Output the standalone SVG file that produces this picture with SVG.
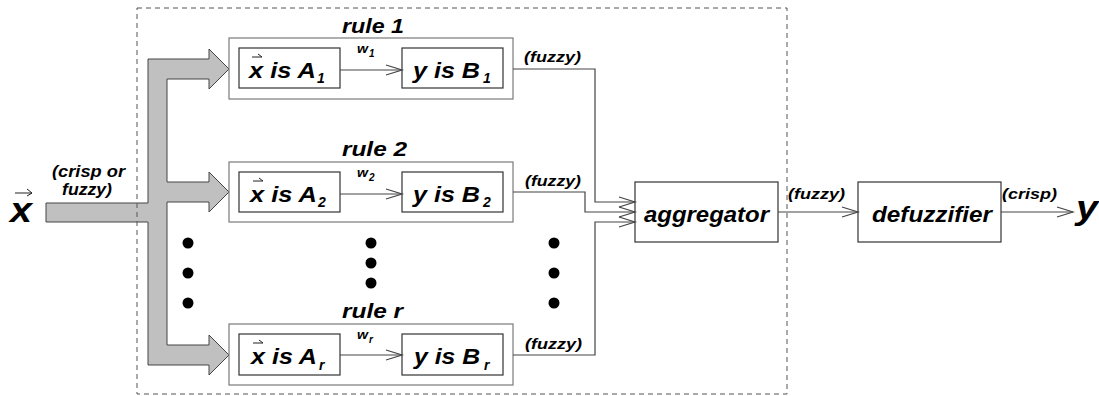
<svg xmlns="http://www.w3.org/2000/svg" width="1099" height="396" viewBox="0 0 1099 396">
  <style>
    text { font-family: "Liberation Sans", Arial, sans-serif; font-weight: bold; font-style: italic; fill: #000; }
    .rulebox { fill: #fff; stroke: #7a7a7a; stroke-width: 1.2; }
    .inbox { fill: #fff; stroke: #333; stroke-width: 1.2; }
    .box { fill: #fff; stroke: #333; stroke-width: 1.2; }
    .wire { fill: none; stroke: #444; stroke-width: 1.2; }
    .vec { fill: none; stroke: #222; stroke-width: 1; }
    .dot { fill: #000; }
  </style>
  <defs>
    <marker id="chev" markerUnits="userSpaceOnUse" markerWidth="20" markerHeight="14" refX="17" refY="6" orient="auto">
      <path d="M1,1 L17,6 L1,11" fill="none" stroke="#444" stroke-width="1.2"/>
    </marker>
  </defs>

  <rect width="1099" height="396" fill="#fff"/>

  <!-- input x -->
  <g id="input">
    <text x="10" y="222" font-size="35" textLength="22" lengthAdjust="spacingAndGlyphs">x</text>
    <path class="vec" d="M15,193 H32 M27,189 L32,193 L27,196" stroke-width="1.5"/>
    <text x="52" y="177" font-size="16" textLength="73" lengthAdjust="spacingAndGlyphs">(crisp or</text>
    <text x="62" y="195" font-size="16" textLength="50" lengthAdjust="spacingAndGlyphs">fuzzy)</text>
  </g>

  <!-- distribution bus -->
  <g id="bus">
    <path d="M148,59 H209 V49 L229,69 L209,89 V79 H167 V182 H209 V172 L229,192 L209,212 V202 H167 V345 H209 V335 L229,355 L209,375 V365 H148 V222 H46 V203 H148 Z" fill="#c0c0c0" stroke="#444" stroke-width="1"/>
  </g>

  <!-- fuzzy inference system boundary -->
  <rect id="boundary" x="137" y="8" width="650" height="386" fill="none" stroke="#555" stroke-width="1" stroke-dasharray="5 4"/>

  <!-- rule 1 -->
  <g id="rule1">
    <text x="342" y="33" font-size="21" textLength="62" lengthAdjust="spacingAndGlyphs">rule 1</text>
    <rect class="rulebox" x="229" y="38" width="284" height="61"/>
    <rect class="inbox" x="239" y="48" width="101" height="40"/>
    <rect class="inbox" x="402" y="48" width="101" height="40"/>
    <text x="249" y="78" font-size="22" textLength="67" lengthAdjust="spacingAndGlyphs">x is A</text>
    <text x="317" y="83" font-size="14">1</text>
    <path class="vec" d="M252,57 H262 M258,54 L262,57"/>
    <text x="413" y="78" font-size="22" textLength="67" lengthAdjust="spacingAndGlyphs">y is B</text>
    <text x="483" y="83" font-size="14">1</text>
    <text x="357" y="53" font-size="13" textLength="11" lengthAdjust="spacingAndGlyphs">w</text>
    <text x="369" y="57" font-size="10">1</text>
    <path class="wire" d="M340,70 H402" marker-end="url(#chev)"/>
  </g>

  <!-- rule 2 -->
  <g id="rule2">
    <text x="342" y="156" font-size="21" textLength="65" lengthAdjust="spacingAndGlyphs">rule 2</text>
    <rect class="rulebox" x="229" y="162" width="284" height="60"/>
    <rect class="inbox" x="239" y="172" width="101" height="40"/>
    <rect class="inbox" x="402" y="172" width="101" height="40"/>
    <text x="250" y="202" font-size="22" textLength="67" lengthAdjust="spacingAndGlyphs">x is A</text>
    <text x="318" y="207" font-size="14">2</text>
    <path class="vec" d="M253,181 H263 M259,178 L263,181"/>
    <text x="413" y="202" font-size="22" textLength="67" lengthAdjust="spacingAndGlyphs">y is B</text>
    <text x="483" y="207" font-size="14">2</text>
    <text x="357" y="177" font-size="13" textLength="11" lengthAdjust="spacingAndGlyphs">w</text>
    <text x="369" y="181" font-size="10">2</text>
    <path class="wire" d="M340,194 H402" marker-end="url(#chev)"/>
  </g>

  <!-- rule r -->
  <g id="ruler">
    <text x="342" y="318" font-size="21" textLength="61" lengthAdjust="spacingAndGlyphs">rule r</text>
    <rect class="rulebox" x="229" y="324" width="284" height="61"/>
    <rect class="inbox" x="239" y="334" width="101" height="41"/>
    <rect class="inbox" x="402" y="334" width="101" height="41"/>
    <text x="251" y="364" font-size="22" textLength="66" lengthAdjust="spacingAndGlyphs">x is A</text>
    <text x="319" y="370" font-size="14">r</text>
    <path class="vec" d="M253,343 H263 M259,340 L263,343"/>
    <text x="414" y="364" font-size="22" textLength="66" lengthAdjust="spacingAndGlyphs">y is B</text>
    <text x="484" y="370" font-size="14">r</text>
    <text x="357" y="339" font-size="13" textLength="11" lengthAdjust="spacingAndGlyphs">w</text>
    <text x="369" y="343" font-size="10">r</text>
    <path class="wire" d="M340,355 H402" marker-end="url(#chev)"/>
  </g>

  <!-- ellipsis dots -->
  <g id="ellipsis">
    <circle class="dot" cx="188" cy="243" r="5.5"/>
    <circle class="dot" cx="188" cy="273" r="5.5"/>
    <circle class="dot" cx="188" cy="303" r="5.5"/>
    <circle class="dot" cx="371" cy="243" r="5.5"/>
    <circle class="dot" cx="371" cy="263" r="5.5"/>
    <circle class="dot" cx="371" cy="283" r="5.5"/>
    <circle class="dot" cx="554" cy="243" r="5.5"/>
    <circle class="dot" cx="554" cy="273" r="5.5"/>
    <circle class="dot" cx="554" cy="303" r="5.5"/>
  </g>

  <!-- aggregator -->
  <g id="aggregator">
    <rect class="box" x="635" y="182" width="143" height="60"/>
    <text x="644" y="222" font-size="22.5" textLength="125" lengthAdjust="spacingAndGlyphs">aggregator</text>
  </g>

  <!-- defuzzifier -->
  <g id="defuzzifier">
    <rect class="box" x="858" y="182" width="143" height="60"/>
    <text x="872" y="222" font-size="22.5" textLength="120" lengthAdjust="spacingAndGlyphs">defuzzifier</text>
  </g>

  <!-- output y -->
  <g id="output">
    <text x="1076" y="219" font-size="33" textLength="22" lengthAdjust="spacingAndGlyphs">y</text>
  </g>

  <!-- connectors -->
  <g id="connectors">
    <path class="wire" d="M513,69 H595 V202 H635" marker-end="url(#chev)"/>
    <path class="wire" d="M513,192 H585 V212 H635" marker-end="url(#chev)"/>
    <path class="wire" d="M513,355 H595 V222 H635" marker-end="url(#chev)"/>
    <path class="wire" d="M778,212 H858" marker-end="url(#chev)"/>
    <path class="wire" d="M1001,212 H1073" marker-end="url(#chev)"/>
    <text x="524" y="62" font-size="15.5" textLength="57" lengthAdjust="spacingAndGlyphs">(fuzzy)</text>
    <text x="525" y="186" font-size="15.5" textLength="56" lengthAdjust="spacingAndGlyphs">(fuzzy)</text>
    <text x="525" y="349" font-size="15.5" textLength="57" lengthAdjust="spacingAndGlyphs">(fuzzy)</text>
    <text x="788" y="199" font-size="15.5" textLength="57" lengthAdjust="spacingAndGlyphs">(fuzzy)</text>
    <text x="1002" y="199" font-size="15.5" textLength="55" lengthAdjust="spacingAndGlyphs">(crisp)</text>
  </g>
</svg>
